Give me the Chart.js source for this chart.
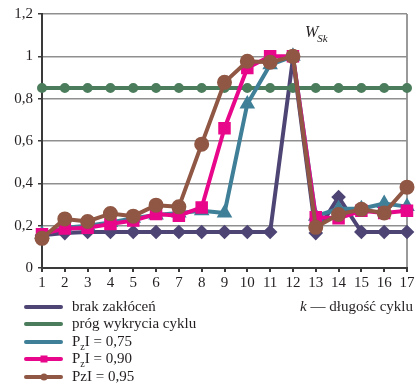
<!DOCTYPE html>
<html>
<head>
<meta charset="utf-8">
<script src="https://cdn.jsdelivr.net/npm/chart.js@4"></script>
<style>
  html, body { margin: 0; padding: 0; background: #fff; }
  #wrap { width: 417px; height: 385px; position: relative; }
</style>
</head>
<body>
<div id="wrap"><canvas id="plot1"></canvas></div>
<script>
// k = 1..17
let kLabels = ["1", "2", "3", "4", "5", "6", "7", "8", "9", "10", "11", "12", "13", "14", "15", "16", "17"];
let yTicks = [0, 0.2, 0.4, 0.6, 0.8, 1, 1.2];

let brakZaklocen = [0.155, 0.165, 0.17, 0.17, 0.17, 0.17, 0.17, 0.17, 0.17, 0.17, 0.17, 0.99, 0.165, 0.335, 0.17, 0.17, 0.17];
let progWykrycia = [0.85, 0.85, 0.85, 0.85, 0.85, 0.85, 0.85, 0.85, 0.85, 0.85, 0.85, 0.85, 0.85, 0.85, 0.85, 0.85, 0.85];
let pzi075 = [0.16, 0.19, 0.2, 0.215, 0.235, 0.25, 0.26, 0.27, 0.26, 0.775, 0.96, 1.0, 0.245, 0.28, 0.28, 0.305, 0.29];
let pzi090 = [0.16, 0.186, 0.19, 0.208, 0.224, 0.255, 0.247, 0.286, 0.66, 0.945, 1.0, 1.0, 0.24, 0.235, 0.27, 0.26, 0.27];
let pzi095 = [0.14, 0.232, 0.22, 0.257, 0.245, 0.297, 0.289, 0.585, 0.877, 0.977, 0.972, 1.0, 0.192, 0.253, 0.277, 0.26, 0.382];

let kolory = {
  brak: "#4e4575",
  prog: "#4b7d5c",
  p075: "#3f7f97",
  p090: "#e8068a",
  p095: "#8f5744",
};

let serif = "'Liberation Serif', 'DejaVu Serif', serif";

// legenda + opisy rysowane recznie
let legendaPlugin = {
  id: "legenda",
  afterDraw: (chart) => {
    let ctx = chart.ctx;
    let items = [
      { text: ["brak zakłóceń"], color: kolory.brak, mark: "dot" },
      { text: ["próg wykrycia cyklu"], color: kolory.prog, mark: "dot" },
      { text: ["P", "z", "I = 0,75"], color: kolory.p075, mark: "dot" },
      { text: ["P", "z", "I = 0,90"], color: kolory.p090, mark: "rect" },
      { text: ["PzI = 0,95"], color: kolory.p095, mark: "circle" },
    ];
    let rows = [307, 324, 342, 359, 377];
    ctx.save();
    items.forEach((it, i) => {
      let y = rows[i];
      ctx.strokeStyle = it.color;
      ctx.fillStyle = it.color;
      ctx.lineWidth = 4;
      ctx.lineCap = "round";
      ctx.beginPath();
      ctx.moveTo(26, y);
      ctx.lineTo(61, y);
      ctx.stroke();
      if (it.mark === "rect") {
        ctx.fillRect(40.5, y - 3.5, 7, 7);
      } else if (it.mark === "circle") {
        ctx.beginPath();
        ctx.arc(44, y, 3.5, 0, Math.PI * 2);
        ctx.fill();
      }
      ctx.fillStyle = "#231f20";
      ctx.textBaseline = "middle";
      ctx.textAlign = "left";
      ctx.font = "15px " + serif;
      if (it.text.length === 1) {
        ctx.fillText(it.text[0], 72, y);
      } else {
        let x = 72;
        ctx.fillText(it.text[0], x, y);
        x += ctx.measureText(it.text[0]).width;
        ctx.font = "10px " + serif;
        ctx.fillText(it.text[1], x, y + 5);
        x += ctx.measureText(it.text[1]).width;
        ctx.font = "15px " + serif;
        ctx.fillText(it.text[2], x, y);
      }
    });

    // opis osi x
    ctx.textBaseline = "middle";
    ctx.font = "15px " + serif;
    let reszta = " — długość cyklu";
    let wR = ctx.measureText(reszta).width;
    ctx.textAlign = "right";
    ctx.fillText(reszta, 413, 307);
    ctx.font = "italic 15px " + serif;
    ctx.fillText("k", 413 - wR, 307);

    // W_Sk
    ctx.textAlign = "left";
    ctx.font = "italic 16px " + serif;
    ctx.fillText("W", 305, 33);
    let wW = ctx.measureText("W").width;
    ctx.font = "italic 11px " + serif;
    ctx.fillText("Sk", 305 + wW - 1, 39);
    ctx.restore();
  },
};

let config = {
  type: "line",
  data: {
    labels: kLabels,
    datasets: [
      {
        label: "PzI = 0,95",
        data: pzi095,
        borderColor: kolory.p095,
        backgroundColor: kolory.p095,
        borderWidth: 4,
        pointStyle: "circle",
        pointRadius: 5.5,
        order: 0,
      },
      {
        label: "PzI = 0,90",
        data: pzi090,
        borderColor: kolory.p090,
        backgroundColor: kolory.p090,
        borderWidth: 4,
        pointStyle: "rect",
        pointRadius: 6,
        order: 1,
      },
      {
        label: "PzI = 0,75",
        data: pzi075,
        borderColor: kolory.p075,
        backgroundColor: kolory.p075,
        borderWidth: 4,
        pointStyle: "triangle",
        pointRadius: 5,
        order: 2,
      },
      {
        label: "próg wykrycia cyklu",
        data: progWykrycia,
        borderColor: kolory.prog,
        backgroundColor: kolory.prog,
        borderWidth: 4,
        pointStyle: "circle",
        pointRadius: 3,
        order: 3,
      },
      {
        label: "brak zakłóceń",
        data: brakZaklocen,
        borderColor: kolory.brak,
        backgroundColor: kolory.brak,
        borderWidth: 4,
        pointStyle: "rectRot",
        pointRadius: 4.5,
        order: 4,
      },
    ],
  },
  options: {
    responsive: false,
    animation: false,
    devicePixelRatio: 1,
    layout: { padding: { left: 0, top: 11, right: 9, bottom: 93 } },
    plugins: {
      legend: { display: false },
      tooltip: { enabled: false },
    },
    elements: {
      line: { tension: 0, borderJoinStyle: "round" },
      point: { borderWidth: 0 },
    },
    scales: {
      x: {
        offset: false,
        afterFit: (scale) => { scale.height = 24; },
        border: { color: "#3a3a3a", width: 2 },
        grid: {
          drawOnChartArea: true,
          color: (c) => (c.index === kLabels.length - 1 ? "#9a9a9a" : "rgba(0,0,0,0)"),
          lineWidth: 2,
          tickColor: "#3a3a3a",
          tickLength: 4,
        },
        ticks: {
          color: "#231f20",
          font: { family: serif, size: 15 },
          padding: 2,
          maxRotation: 0,
          autoSkip: false,
        },
      },
      y: {
        min: 0,
        max: 1.2,
        afterFit: (scale) => { scale.width = 42; },
        afterBuildTicks: (scale) => { scale.ticks = yTicks.map((v) => ({ value: v })); },
        border: { color: "#3a3a3a", width: 2 },
        grid: {
          color: "#8f8f8f",
          lineWidth: 1.5,
          tickColor: "#3a3a3a",
          tickLength: 4,
        },
        ticks: {
          color: "#231f20",
          font: { family: serif, size: 15 },
          padding: 5,
          callback: (v) => String(Math.round(v * 10) / 10).replace(".", ","),
        },
      },
    },
  },
  plugins: [legendaPlugin],
};

let canvas = document.getElementById("plot1");
canvas.width = 417;
canvas.height = 385;
let chart1 = new Chart(canvas, config);
</script>
</body>
</html>
